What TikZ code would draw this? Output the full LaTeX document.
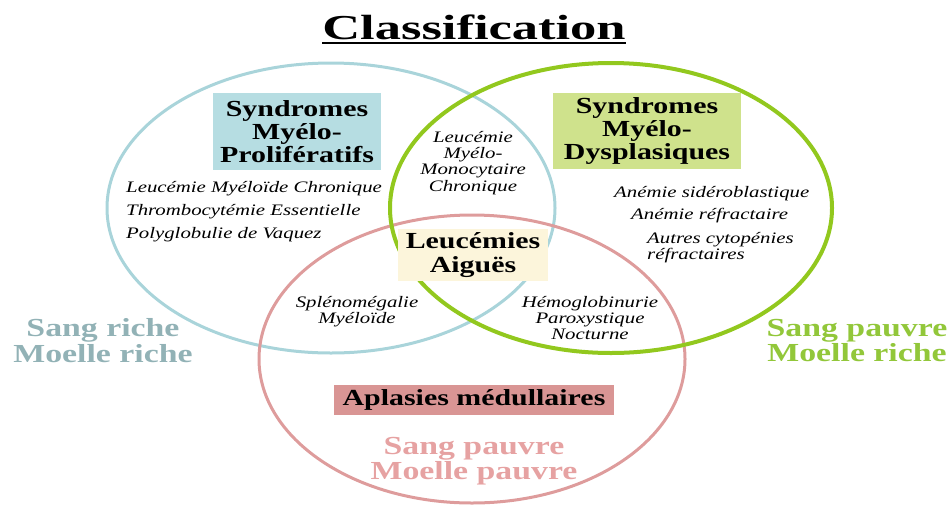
\documentclass[tikz,border=0pt]{standalone}
\usepackage{fontspec}
\setmainfont[FakeStretch=1.3]{Liberation Serif}
\newfontfamily\titlefont[FakeStretch=1.5]{Liberation Serif}
\usetikzlibrary{shapes.geometric}
\definecolor{cBlueLine}{HTML}{A9D4DA}
\definecolor{cBlueBox}{HTML}{B6DDE2}
\definecolor{cGreenLine}{HTML}{92C81E}
\definecolor{cGreenBox}{HTML}{CFE28C}
\definecolor{cRedLine}{HTML}{DE9C9C}
\definecolor{cRedBox}{HTML}{D99594}
\definecolor{cYellowBox}{HTML}{FCF5DB}
\definecolor{cBlueLbl}{HTML}{92B2B6}
\definecolor{cGreenLbl}{HTML}{92C73A}
\definecolor{cRedLbl}{HTML}{E6A2A2}
\begin{document}
\begin{tikzpicture}[x=1pt,y=-1pt,
  venn/.style={ellipse, draw, inner sep=0pt},
  catbox/.style={rectangle, inner sep=0pt, align=center, text=black,
                 font=\bfseries\fontsize{23}{23.3}\selectfont},
  itx/.style={inner sep=0pt, text=black, font=\itshape\fontsize{16}{16.3}\selectfont},
  lbl/.style={inner sep=0pt, align=center, font=\bfseries\fontsize{26}{25.5}\selectfont}]
\useasboundingbox (0,0) rectangle (952,507);

% title
\node[inner sep=0pt, anchor=base, font=\titlefont\bfseries\fontsize{35}{40}\selectfont] (title) at (474,39) {Classification};
\draw[line width=2pt] ([yshift=-4pt]title.base west) -- ([yshift=-4pt]title.base east);

% sets
\node[venn, draw=cBlueLine, line width=3pt, minimum width=448pt, minimum height=290pt] (setB) at (331,208) {};
\node[venn, draw=cRedLine, line width=3pt, minimum width=426pt, minimum height=288pt] (setR) at (472,359) {};
\node[venn, draw=cGreenLine, line width=4pt, minimum width=442pt, minimum height=290pt] (setG) at (611,208) {};

% category boxes
\node[catbox, fill=cBlueBox, minimum width=168pt, minimum height=77pt] (smp) at (297,131.5) {Syndromes\\Myélo-\\Prolifératifs};
\node[catbox, fill=cGreenBox, minimum width=188pt, minimum height=76pt] (smd) at (647,131) {Syndromes\\Myélo-\\Dysplasiques};
\node[catbox, fill=cYellowBox, minimum width=150pt, minimum height=52pt] (la) at (473,255) {Leucémies\\Aiguës};
\node[catbox, fill=cRedBox, minimum width=280pt, minimum height=30pt] (am) at (474,400) {Aplasies médullaires};

% italic lists
\node[itx, align=left, anchor=west, font=\itshape\fontsize{16}{23}\selectfont] (lmp) at (126,211.3)
  {Leucémie Myéloïde Chronique\\Thrombocytémie Essentielle\\Polyglobulie de Vaquez};
\node[itx, align=center] (lmmc) at (473,162.8) {Leucémie\\Myélo-\\Monocytaire\\Chronique};
\node[itx, align=left, anchor=west, font=\itshape\fontsize{16}{16}\selectfont] (lmd) at (614,224.2)
  {Anémie sidéroblastique\\[6pt]\hspace*{17pt}Anémie réfractaire\\[8pt]\hspace*{33pt}Autres cytopénies\\\hspace*{33pt}réfractaires};
\node[itx, align=center, font=\itshape\fontsize{16}{16}\selectfont] (spm) at (357,311.3) {Splénomégalie\\Myéloïde};
\node[itx, align=center, font=\itshape\fontsize{16}{16}\selectfont] (hpn) at (590,317.6) {Hémoglobinurie\\Paroxystique\\Nocturne};

% blood / marrow labels
\node[lbl, text=cBlueLbl] (lblB) at (103,340.6) {Sang riche\\Moelle riche};
\node[lbl, text=cGreenLbl] (lblG) at (857,340.6) {Sang pauvre\\Moelle riche};
\node[lbl, text=cRedLbl] (lblR) at (474,460.9) {Sang pauvre\\Moelle pauvre};
\end{tikzpicture}
\end{document}
